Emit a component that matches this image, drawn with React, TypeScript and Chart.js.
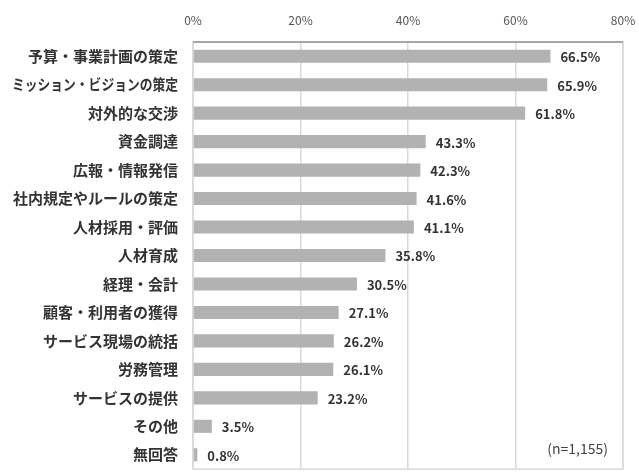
import React, { useEffect, useRef } from "react";
import { Chart, registerables } from "chart.js";

Chart.register(...registerables);

const categories: string[] = [
  "予算・事業計画の策定",
  "ミッション・ビジョンの策定",
  "対外的な交渉",
  "資金調達",
  "広報・情報発信",
  "社内規定やルールの策定",
  "人材採用・評価",
  "人材育成",
  "経理・会計",
  "顧客・利用者の獲得",
  "サービス現場の統括",
  "労務管理",
  "サービスの提供",
  "その他",
  "無回答",
];

const values: number[] = [66.5, 65.9, 61.8, 43.3, 42.3, 41.6, 41.1, 35.8, 30.5, 27.1, 26.2, 26.1, 23.2, 3.5, 0.8];

const xTicks: number[] = [0, 20, 40, 60, 80];
const note = "(n=1,155)";

const JP_FONT = "'Noto Sans CJK JP', 'Noto Sans', sans-serif";

const overlayPlugin = {
  id: "overlay",
  beforeDatasetsDraw(chart: any) {
    const { ctx, chartArea } = chart;
    ctx.save();
    ctx.strokeStyle = "#d9d9d9";
    ctx.lineWidth = 1.5;
    ctx.strokeRect(chartArea.left, chartArea.top, chartArea.right - chartArea.left, chartArea.bottom - chartArea.top);
    ctx.restore();
  },
  afterDraw(chart: any) {
    const { ctx, chartArea } = chart;
    ctx.save();
    // top border darker
    ctx.strokeStyle = "#a6a6a6";
    ctx.lineWidth = 2;
    ctx.beginPath();
    ctx.moveTo(chartArea.left, chartArea.top);
    ctx.lineTo(chartArea.right, chartArea.top);
    ctx.stroke();
    // category labels
    const yScale = chart.scales.y;
    ctx.fillStyle = "#333333";
    ctx.font = "bold 15px " + JP_FONT;
    ctx.textAlign = "right";
    ctx.textBaseline = "middle";
    chart.data.labels.forEach((lab: string, i: number) => {
      const y = yScale.getPixelForTick(i);
      ctx.fillText(lab, chartArea.left - 15, y, 166);
    });
    // value labels
    const meta = chart.getDatasetMeta(0);
    ctx.font = "bold 13px " + JP_FONT;
    ctx.textAlign = "left";
    meta.data.forEach((bar: any, i: number) => {
      const v = chart.data.datasets[0].data[i];
      ctx.fillText(v.toFixed(1) + "%", bar.x + 10, bar.y + 1);
    });
    // note
    ctx.fillStyle = "#444444";
    ctx.font = "14px " + JP_FONT;
    ctx.textAlign = "right";
    ctx.fillText(note, chartArea.right - 15, chartArea.bottom - 20);
    ctx.restore();
  },
};

export default function App() {
  const ref = useRef<HTMLCanvasElement | null>(null);
  useEffect(() => {
    if (!ref.current) return;
    const chart = new Chart(ref.current, {
      type: "bar",
      data: {
        labels: categories,
        datasets: [
          {
            data: values,
            backgroundColor: "#b2b2b2",
            barPercentage: 0.92,
            categoryPercentage: 0.5,
          },
        ],
      },
      options: {
        indexAxis: "y",
        animation: false,
        responsive: false,
        maintainAspectRatio: false,
        layout: { padding: { left: 0, right: 16, top: 0, bottom: 6 } },
        plugins: {
          legend: { display: false },
          tooltip: { enabled: false },
        },
        scales: {
          x: {
            position: "top",
            min: 0,
            max: 80,
            z: 1,
            afterBuildTicks: (scale: any) => {
              scale.ticks = xTicks.map((v) => ({ value: v }));
            },
            afterFit: (scale: any) => {
              scale.height = 42;
              scale.paddingLeft = 0;
              scale.paddingRight = 0;
              scale.paddingTop = 0;
              scale.paddingBottom = 0;
            },
            ticks: {
              stepSize: 20,
              callback: (v: any) => v + "%",
              color: "#555555",
              font: { size: 12, family: JP_FONT },
              padding: 14,
            },
            grid: { color: "#d9d9d9", lineWidth: 1.5, drawTicks: false },
            border: { display: false },
          },
          y: {
            afterFit: (scale: any) => {
              scale.width = 193;
              scale.paddingTop = 0;
              scale.paddingBottom = 0;
            },
            ticks: { display: false, autoSkip: false },
            grid: { display: false, drawTicks: false },
            border: { display: false },
          },
        },
      },
      plugins: [overlayPlugin],
    } as any);
    return () => chart.destroy();
  }, []);
  return (
    <div style={{ position: "fixed", left: 0, top: 0, width: 639, height: 475, background: "#fff" }}>
      <canvas ref={ref} width={639} height={475} style={{ width: 639, height: 475 }} />
    </div>
  );
}
